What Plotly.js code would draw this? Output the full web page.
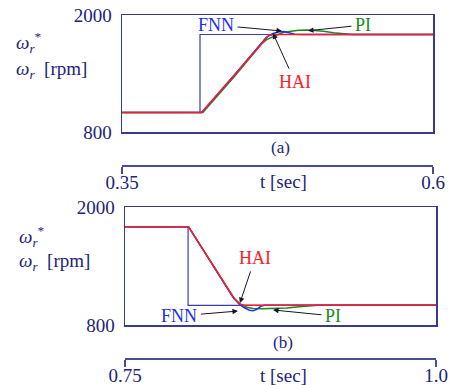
<!DOCTYPE html>
<html>
<head>
<meta charset="utf-8">
<script src="https://cdn.plot.ly/plotly-3.0.1.min.js"></script>
<style>
  html, body { margin: 0; padding: 0; background: #fff; }
  #chart { width: 451px; height: 385px; }
</style>
</head>
<body>
<div id="chart"></div>
<script>
// (a) Anlauf 1000 -> 1800 rpm
const tCmdA = [0.35, 0.4127, 0.4127, 0.6];
const wCmdA = [1000, 1000, 1800, 1800];
const tHaiA = [0.35, 0.414, 0.440, 0.468, 0.472, 0.477, 0.6];
const wHaiA = [1000, 1000, 1380, 1790, 1797, 1800, 1800];
const tFnnA = [0.35, 0.414, 0.440, 0.466, 0.471, 0.476, 0.480, 0.484, 0.489, 0.495, 0.6];
const wFnnA = [1000, 1000, 1380, 1770, 1808, 1828, 1830, 1818, 1802, 1800, 1800];
const tPiA = [0.35, 0.415, 0.440, 0.462, 0.466, 0.470, 0.475, 0.480, 0.487, 0.492, 0.500, 0.505, 0.512, 0.520, 0.528, 0.535, 0.6];
const wPiA = [1000, 1000, 1365, 1700, 1745, 1770, 1798, 1822, 1838, 1844, 1845, 1843, 1834, 1818, 1806, 1800, 1800];

// (b) Bremsen 1800 -> 1000 rpm
const tCmdB = [0.75, 0.8007, 0.8007, 1.0];
const wCmdB = [1800, 1800, 1000, 1000];
const tHaiB = [0.75, 0.801, 0.838, 0.842, 0.846, 1.0];
const wHaiB = [1800, 1800, 1065, 1015, 1000, 1000];
const tFnnB = [0.75, 0.801, 0.837, 0.842, 0.846, 0.850, 0.853, 0.856, 0.859, 0.862, 1.0];
const wFnnB = [1800, 1800, 1080, 1010, 975, 950, 944, 960, 990, 1000, 1000];
const tPiB = [0.75, 0.801, 0.838, 0.843, 0.848, 0.853, 0.860, 0.870, 0.880, 0.890, 0.898, 0.905, 1.0];
const wPiB = [1800, 1800, 1065, 1010, 980, 968, 966, 967, 972, 985, 997, 1000, 1000];

const yTicks = [800, 2000];
const timeTicksA = [0.35, 0.6];
const timeTextA = ["0.35", "0.6"];
const timeTicksB = [0.75, 1.0];
const timeTextB = ["0.75", "1.0"];

const NAVY = "#23237a";
const FRAME = "#3a3a8c";
const C_CMD = "#3c3ca8";
const C_FNN = "#2030f0";
const C_PI = "#1a8a1a";
const C_HAI = "#ff1a2a";
const FONT = "Liberation Serif, Times New Roman, Times, serif";

const W = 451, H = 385;
const px = (v) => v / W;
const py = (v) => 1 - v / H;

function line(x, y, color, width, xa, ya) {
  return {
    type: "scatter", mode: "lines", x: x, y: y,
    xaxis: xa, yaxis: ya,
    line: { color: color, width: width },
    hoverinfo: "skip", showlegend: false,
  };
}

const traces = [
  line(tCmdA, wCmdA, C_CMD, 1.2, "x", "y"),
  line(tPiA, wPiA, C_PI, 1.5, "x", "y"),
  line(tFnnA, wFnnA, C_FNN, 1.5, "x", "y"),
  line(tHaiA, wHaiA, C_HAI, 1.5, "x", "y"),
  line(tCmdB, wCmdB, C_CMD, 1.2, "x2", "y2"),
  line(tPiB, wPiB, C_PI, 1.5, "x2", "y2"),
  line(tFnnB, wFnnB, C_FNN, 1.5, "x2", "y2"),
  line(tHaiB, wHaiB, C_HAI, 1.5, "x2", "y2"),
  // leere Spuren, damit die Zeitachsen gezeichnet werden
  { type: "scatter", mode: "lines", x: [], y: [], xaxis: "x3", yaxis: "y", showlegend: false },
  { type: "scatter", mode: "lines", x: [], y: [], xaxis: "x4", yaxis: "y2", showlegend: false },
];

const boxX = (dom, range, anchor) => ({
  domain: dom, range: range, anchor: anchor,
  showline: true, mirror: true, linecolor: FRAME, linewidth: 1.5,
  showticklabels: false, ticks: "", showgrid: false, zeroline: false,
});
const boxY = (dom, anchor) => ({
  domain: dom, range: [800, 2000], anchor: anchor,
  showline: true, mirror: true, linecolor: FRAME, linewidth: 1.5,
  tickvals: yTicks, ticks: "", ticklabelstandoff: 5,
  showgrid: false, zeroline: false,
  tickfont: { family: FONT, size: 19, color: NAVY },
});
const timeX = (over, range, pos, vals, text) => ({
  overlaying: over, anchor: "free", position: pos, side: "bottom",
  range: range, showline: true, linecolor: "#4a4a9a", linewidth: 1.5,
  ticks: "outside", ticklen: 7, tickwidth: 1.5, tickcolor: "#4a4a9a",
  tickvals: vals, ticktext: text, ticklabelstandoff: -7,
  showgrid: false, zeroline: false,
  tickfont: { family: FONT, size: 19, color: NAVY },
});

const txt = (x, y, text, color, size, xref, yref) => ({
  x: x, y: y, xref: xref, yref: yref, text: text, showarrow: false,
  font: { family: FONT, size: size, color: color },
  xanchor: "center", yanchor: "middle",
});
// Beschriftung mit Pfeil: Text bei (tx, ty), Pfeilspitze bei (x, y)
const label = (text, color, x, y, tx, ty, xr, yr) => ({
  x: x, y: y, ax: tx, ay: ty, xref: xr, yref: yr, axref: xr, ayref: yr,
  text: text, showarrow: true, arrowhead: 2, arrowsize: 1.1, arrowwidth: 1,
  arrowcolor: "#151530", standoff: 0, startstandoff: 2,
  font: { family: FONT, size: 18, color: color },
});
const yLabel = (xp, yp, text) => ({
  x: px(xp), y: py(yp), xref: "paper", yref: "paper", text: text,
  showarrow: false, xanchor: "left", yanchor: "middle",
  font: { family: FONT, size: 19, color: NAVY },
});

const annotations = [
  // (a)
  label("FNN", C_FNN, 0.4786, 1836, 0.4256, 1897, "x", "y"),
  label("PI", C_PI, 0.4995, 1839, 0.5437, 1897, "x", "y"),
  label("HAI", C_HAI, 0.4714, 1812, 0.4891, 1313, "x", "y"),
  // (b)
  label("HAI", C_HAI, 0.8424, 1024, 0.8545, 1481, "x2", "y2"),
  label("FNN", C_FNN, 0.8408, 942, 0.7938, 892, "x2", "y2"),
  label("PI", C_PI, 0.869, 953, 0.9172, 892, "x2", "y2"),
  // Beschriftungen
  txt(px(280), py(147), "(a)", NAVY, 17, "paper", "paper"),
  txt(px(283), py(342), "(b)", NAVY, 17, "paper", "paper"),
  txt(px(283), py(182), "t [sec]", NAVY, 19, "paper", "paper"),
  txt(px(283), py(375), "t [sec]", NAVY, 19, "paper", "paper"),
  yLabel(14, 42, "<i>ω<sub>r</sub></i><sup>*</sup>"),
  yLabel(14, 70, "<i>ω<sub>r</sub></i>  [rpm]"),
  yLabel(17, 236, "<i>ω<sub>r</sub></i><sup>*</sup>"),
  yLabel(17, 262, "<i>ω<sub>r</sub></i>  [rpm]"),
];

const layout = {
  width: W, height: H,
  margin: { l: 0, r: 0, t: 0, b: 0 },
  paper_bgcolor: "#fff", plot_bgcolor: "#fff",
  showlegend: false,
  font: { family: FONT, color: NAVY },
  xaxis: boxX([px(122), px(433)], [0.35, 0.6], "y"),
  yaxis: boxY([py(132), py(15)], "x"),
  xaxis2: boxX([px(125), px(436)], [0.75, 1.0], "y2"),
  yaxis2: boxY([py(325), py(207)], "x2"),
  xaxis3: timeX("x", [0.35, 0.6], py(165), timeTicksA, timeTextA),
  xaxis4: timeX("x2", [0.75, 1.0], py(358), timeTicksB, timeTextB),
  annotations: annotations,
};

Plotly.newPlot("chart", traces, layout, { staticPlot: true });
</script>
</body>
</html>
